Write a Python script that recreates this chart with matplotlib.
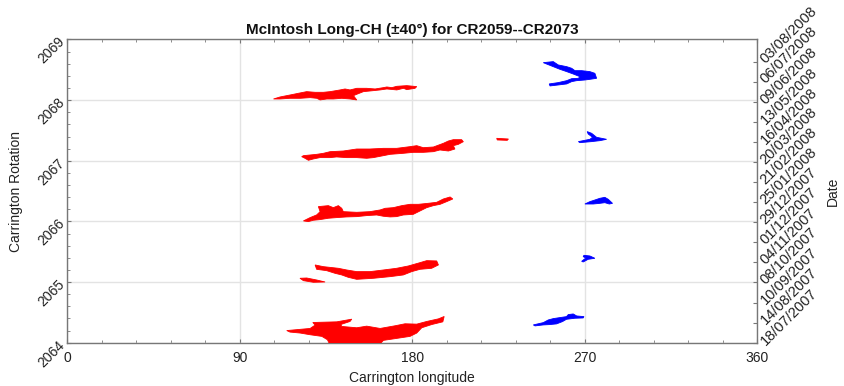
import matplotlib
matplotlib.use("Agg")
import matplotlib.pyplot as plt
from matplotlib.ticker import MultipleLocator, FixedLocator

plt.rcParams['font.family'] = ['Liberation Sans', 'DejaVu Sans']

# ---------------- data (Carrington longitude, Carrington rotation) ----------------
title = "McIntosh Long-CH (\u00b140\u00b0) for CR2059--CR2073"
date_labels = ["18/07/2007", "14/08/2007", "10/09/2007", "08/10/2007", "04/11/2007",
               "01/12/2007", "29/12/2007", "25/01/2008", "21/02/2008", "20/03/2008",
               "16/04/2008", "13/05/2008", "09/06/2008", "06/07/2008", "03/08/2008"]
x_ticks = [0, 90, 180, 270, 360]
y_ticks = [2064, 2065, 2066, 2067, 2068, 2069]

# red (negative polarity) coronal hole outlines
red_2064_lon = [114.6, 126.8, 129.4, 128.2, 140.7, 148.5, 147.6, 142.8, 143.3, 151.1, 156.3,
                163.3, 171.1, 176.3, 182.4, 187.6, 193.7, 196.7, 196.0, 190.3, 185.0, 182.4,
                178.9, 172.0, 165.0, 163.3, 151.1, 136.9, 135.8, 132.9, 126.8, 121.6, 116.3]
red_2064_cr = [2064.20, 2064.235, 2064.29, 2064.333, 2064.344, 2064.388, 2064.35, 2064.30,
               2064.268, 2064.246, 2064.273, 2064.235, 2064.279, 2064.312, 2064.306, 2064.35,
               2064.393, 2064.432, 2064.344, 2064.30, 2064.246, 2064.159, 2064.104, 2064.071,
               2064.038, 2063.98, 2063.98, 2063.98, 2064.049, 2064.104, 2064.131, 2064.159,
               2064.175]

red_2065_lon = [129.4, 133.7, 141.5, 145.9, 151.1, 158.0, 165.0, 171.9, 178.0, 184.1, 187.6,
                192.8, 193.7, 190.2, 184.1, 179.8, 175.4, 168.5, 159.8, 151.1, 146.7, 143.3,
                139.8, 135.4, 130.2]
red_2065_cr = [2065.282, 2065.254, 2065.227, 2065.199, 2065.172, 2065.172, 2065.199, 2065.227,
               2065.265, 2065.32, 2065.353, 2065.348, 2065.282, 2065.227, 2065.21, 2065.172,
               2065.117, 2065.089, 2065.062, 2065.045, 2065.078, 2065.117, 2065.144, 2065.188,
               2065.21]

red_2065b_lon = [121.5, 125.0, 130.2, 134.6, 128.5, 123.3]
red_2065b_cr = [2065.062, 2065.067, 2065.034, 2065.001, 2064.996, 2065.023]

red_2066_lon = [123.3, 126.8, 130.2, 132.0, 131.1, 136.3, 138.9, 141.5, 143.3, 144.1, 151.1,
                158.0, 163.3, 165.9, 170.2, 174.6, 178.9, 183.3, 188.5, 192.8, 196.3, 199.8,
                201.2, 198.0, 194.6, 191.1, 187.6, 184.1, 180.6, 175.4, 171.9, 168.5, 165.0,
                161.5, 156.3, 151.1, 145.9, 140.7, 136.3, 132.0, 128.5, 125.9]
red_2066_cr = [2066.008, 2066.063, 2066.107, 2066.161, 2066.244, 2066.26, 2066.227, 2066.26,
               2066.216, 2066.161, 2066.15, 2066.161, 2066.189, 2066.216, 2066.227, 2066.26,
               2066.282, 2066.282, 2066.299, 2066.315, 2066.37, 2066.403, 2066.37, 2066.326,
               2066.282, 2066.26, 2066.227, 2066.172, 2066.117, 2066.106, 2066.079, 2066.074,
               2066.085, 2066.106, 2066.096, 2066.079, 2066.074, 2066.063, 2066.052, 2066.03,
               2066.019, 2065.997]

red_2067_lon = [122.4, 123.3, 126.7, 130.2, 133.7, 137.2, 144.1, 151.1, 158.0, 165.0, 171.9,
                178.9, 182.4, 185.8, 191.1, 196.3, 198.9, 201.5, 205.8, 206.7, 204.1, 201.5,
                202.3, 198.9, 194.5, 191.1, 185.8, 180.6, 175.4, 168.5, 165.0, 159.8, 156.3,
                151.1, 145.9, 140.6, 137.2, 131.9, 128.5, 125.9, 124.1]
red_2067_cr = [2067.068, 2067.084, 2067.095, 2067.106, 2067.123, 2067.150, 2067.161, 2067.194,
               2067.194, 2067.205, 2067.205, 2067.233, 2067.249, 2067.216, 2067.227, 2067.288,
               2067.326, 2067.348, 2067.348, 2067.315, 2067.271, 2067.249, 2067.194, 2067.161,
               2067.178, 2067.150, 2067.139, 2067.139, 2067.123, 2067.106, 2067.084, 2067.052,
               2067.041, 2067.052, 2067.052, 2067.063, 2067.052, 2067.052, 2067.030, 2067.008,
               2067.041]

red_2067b_lon = [224.1, 230.2, 229.6, 224.4]
red_2067b_cr = [2067.370, 2067.359, 2067.337, 2067.343]

red_2068_lon = [107.7, 111.1, 114.6, 118.1, 120.7, 125.0, 129.4, 133.7, 137.2, 142.4, 145.0,
                147.6, 151.1, 156.3, 160.7, 165.0, 166.8, 169.4, 172.0, 177.2, 182.4, 181.5,
                177.2, 175.5, 172.0, 166.8, 163.3, 158.1, 154.6, 151.1, 149.4, 151.1, 147.6,
                143.3, 138.9, 135.5, 132.0, 130.3, 126.8, 121.6, 116.3, 111.1]
red_2068_cr = [2068.019, 2068.052, 2068.074, 2068.096, 2068.113, 2068.140, 2068.129, 2068.129,
               2068.140, 2068.168, 2068.184, 2068.168, 2068.195, 2068.195, 2068.184, 2068.206,
               2068.217, 2068.206, 2068.228, 2068.239, 2068.223, 2068.195, 2068.173, 2068.195,
               2068.168, 2068.184, 2068.168, 2068.151, 2068.140, 2068.096, 2068.074, 2068.003,
               2068.019, 2068.030, 2068.019, 2068.019, 2068.003, 2068.030, 2068.041, 2068.030,
               2068.030, 2068.019]

# blue (positive polarity) coronal hole outlines
blue_2064_lon = [243.2, 248.4, 251.0, 253.6, 257.1, 260.5, 261.4, 264.0, 265.8, 269.6, 269.2,
                 264.9, 260.5, 258.4, 255.3, 251.8, 248.4, 244.1]
blue_2064_cr = [2064.293, 2064.331, 2064.375, 2064.397, 2064.414, 2064.430, 2064.463, 2064.474,
                2064.441, 2064.430, 2064.408, 2064.403, 2064.386, 2064.348, 2064.310, 2064.299,
                2064.293, 2064.277]

blue_2065_lon = [269.6, 272.7, 275.3, 271.8, 269.2, 268.4, 270.6, 269.2]
blue_2065_cr = [2065.441, 2065.430, 2065.392, 2065.375, 2065.331, 2065.342, 2065.397, 2065.419]

blue_2066_lon = [270.1, 272.7, 275.3, 277.9, 280.5, 282.3, 284.5, 282.8, 280.5, 277.9, 274.4]
blue_2066_cr = [2066.287, 2066.326, 2066.353, 2066.381, 2066.397, 2066.364, 2066.298, 2066.287,
                2066.309, 2066.298, 2066.287]

blue_2067_lon = [271.3, 273.6, 276.2, 281.4, 278.0, 273.6, 267.5, 266.7, 272.7, 274.1, 271.8]
blue_2067_cr = [2067.481, 2067.453, 2067.387, 2067.354, 2067.332, 2067.316, 2067.299, 2067.316,
                2067.354, 2067.387, 2067.442]

blue_2068_lon = [248.4, 253.6, 256.2, 260.6, 263.2, 264.9, 268.4, 272.7, 275.3, 276.2, 272.7,
                 270.1, 265.8, 263.2, 260.6, 256.2, 251.9, 251.5, 256.2, 260.6, 263.2, 266.7,
                 267.5, 264.0, 260.6, 257.1, 253.6, 250.1]
blue_2068_cr = [2068.618, 2068.635, 2068.580, 2068.552, 2068.525, 2068.486, 2068.486, 2068.470,
                2068.442, 2068.360, 2068.343, 2068.332, 2068.321, 2068.305, 2068.267, 2068.250,
                2068.234, 2068.267, 2068.289, 2068.321, 2068.354, 2068.360, 2068.387, 2068.431,
                2068.470, 2068.508, 2068.552, 2068.596]

red_holes = [(red_2064_lon, red_2064_cr), (red_2065_lon, red_2065_cr),
             (red_2065b_lon, red_2065b_cr), (red_2066_lon, red_2066_cr),
             (red_2067_lon, red_2067_cr), (red_2067b_lon, red_2067b_cr),
             (red_2068_lon, red_2068_cr)]
blue_holes = [(blue_2064_lon, blue_2064_cr), (blue_2065_lon, blue_2065_cr),
              (blue_2066_lon, blue_2066_cr), (blue_2067_lon, blue_2067_cr),
              (blue_2068_lon, blue_2068_cr)]

# ---------------- figure ----------------
fig = plt.figure(figsize=(8.45, 3.86), dpi=100)
ax = fig.add_axes([0.0793, 0.1122, 0.8169, 0.7855])

for lon, cr in red_holes:
    ax.fill(lon, cr, color='#ff0000', lw=0.6, zorder=3)
for lon, cr in blue_holes:
    ax.fill(lon, cr, color='#0000ff', lw=0.6, zorder=3)

ax.set_xlim(0, 360)
ax.set_ylim(2064, 2069)
ax.set_xticks(x_ticks)
ax.set_yticks(y_ticks)
ax.xaxis.set_minor_locator(MultipleLocator(18))
ax.yaxis.set_minor_locator(MultipleLocator(0.2))
ax.grid(True, which='major', color='#e3e3e3', lw=1.0, zorder=0)
ax.set_axisbelow(True)

spine_col = '#777777'
for s in ax.spines.values():
    s.set_color(spine_col)
    s.set_linewidth(1.0)

ax.tick_params(which='both', direction='in', top=True, right=False, colors=spine_col,
               labelcolor='#222222', labelsize=10)
ax.tick_params(which='major', length=3)
ax.tick_params(which='minor', length=2)
ax.tick_params(axis='x', pad=6)
ax.tick_params(axis='y', pad=3)
for lab in ax.get_yticklabels():
    lab.set_rotation(45)
    lab.set_rotation_mode('anchor')
    lab.set_ha('right')
    lab.set_va('center')

ax.set_xlabel("Carrington longitude", fontsize=10, color='#222222', labelpad=4)
ax.set_ylabel("Carrington Rotation", fontsize=10, color='#222222')
ax.yaxis.set_label_coords(-0.064, 0.5)
ax.set_title(title, fontsize=11, fontweight='bold', color='#111111', pad=4)

ax2 = ax.twinx()
ax2.set_ylim(0, 15.1)
ax2.yaxis.set_major_locator(FixedLocator(list(range(len(date_labels)))))
ax2.set_yticklabels(date_labels)
for s in ax2.spines.values():
    s.set_visible(False)
ax2.tick_params(axis='y', direction='in', length=3, colors=spine_col, labelcolor='#222222',
                labelsize=10.5, pad=4)
for lab in ax2.get_yticklabels():
    lab.set_rotation(45)
    lab.set_rotation_mode('anchor')
    lab.set_ha('left')
    lab.set_va('center')
ax2.set_ylabel("Date", fontsize=10, color='#222222')
ax2.yaxis.set_label_coords(1.100, 0.5)

fig.savefig("out.png", dpi=100)
